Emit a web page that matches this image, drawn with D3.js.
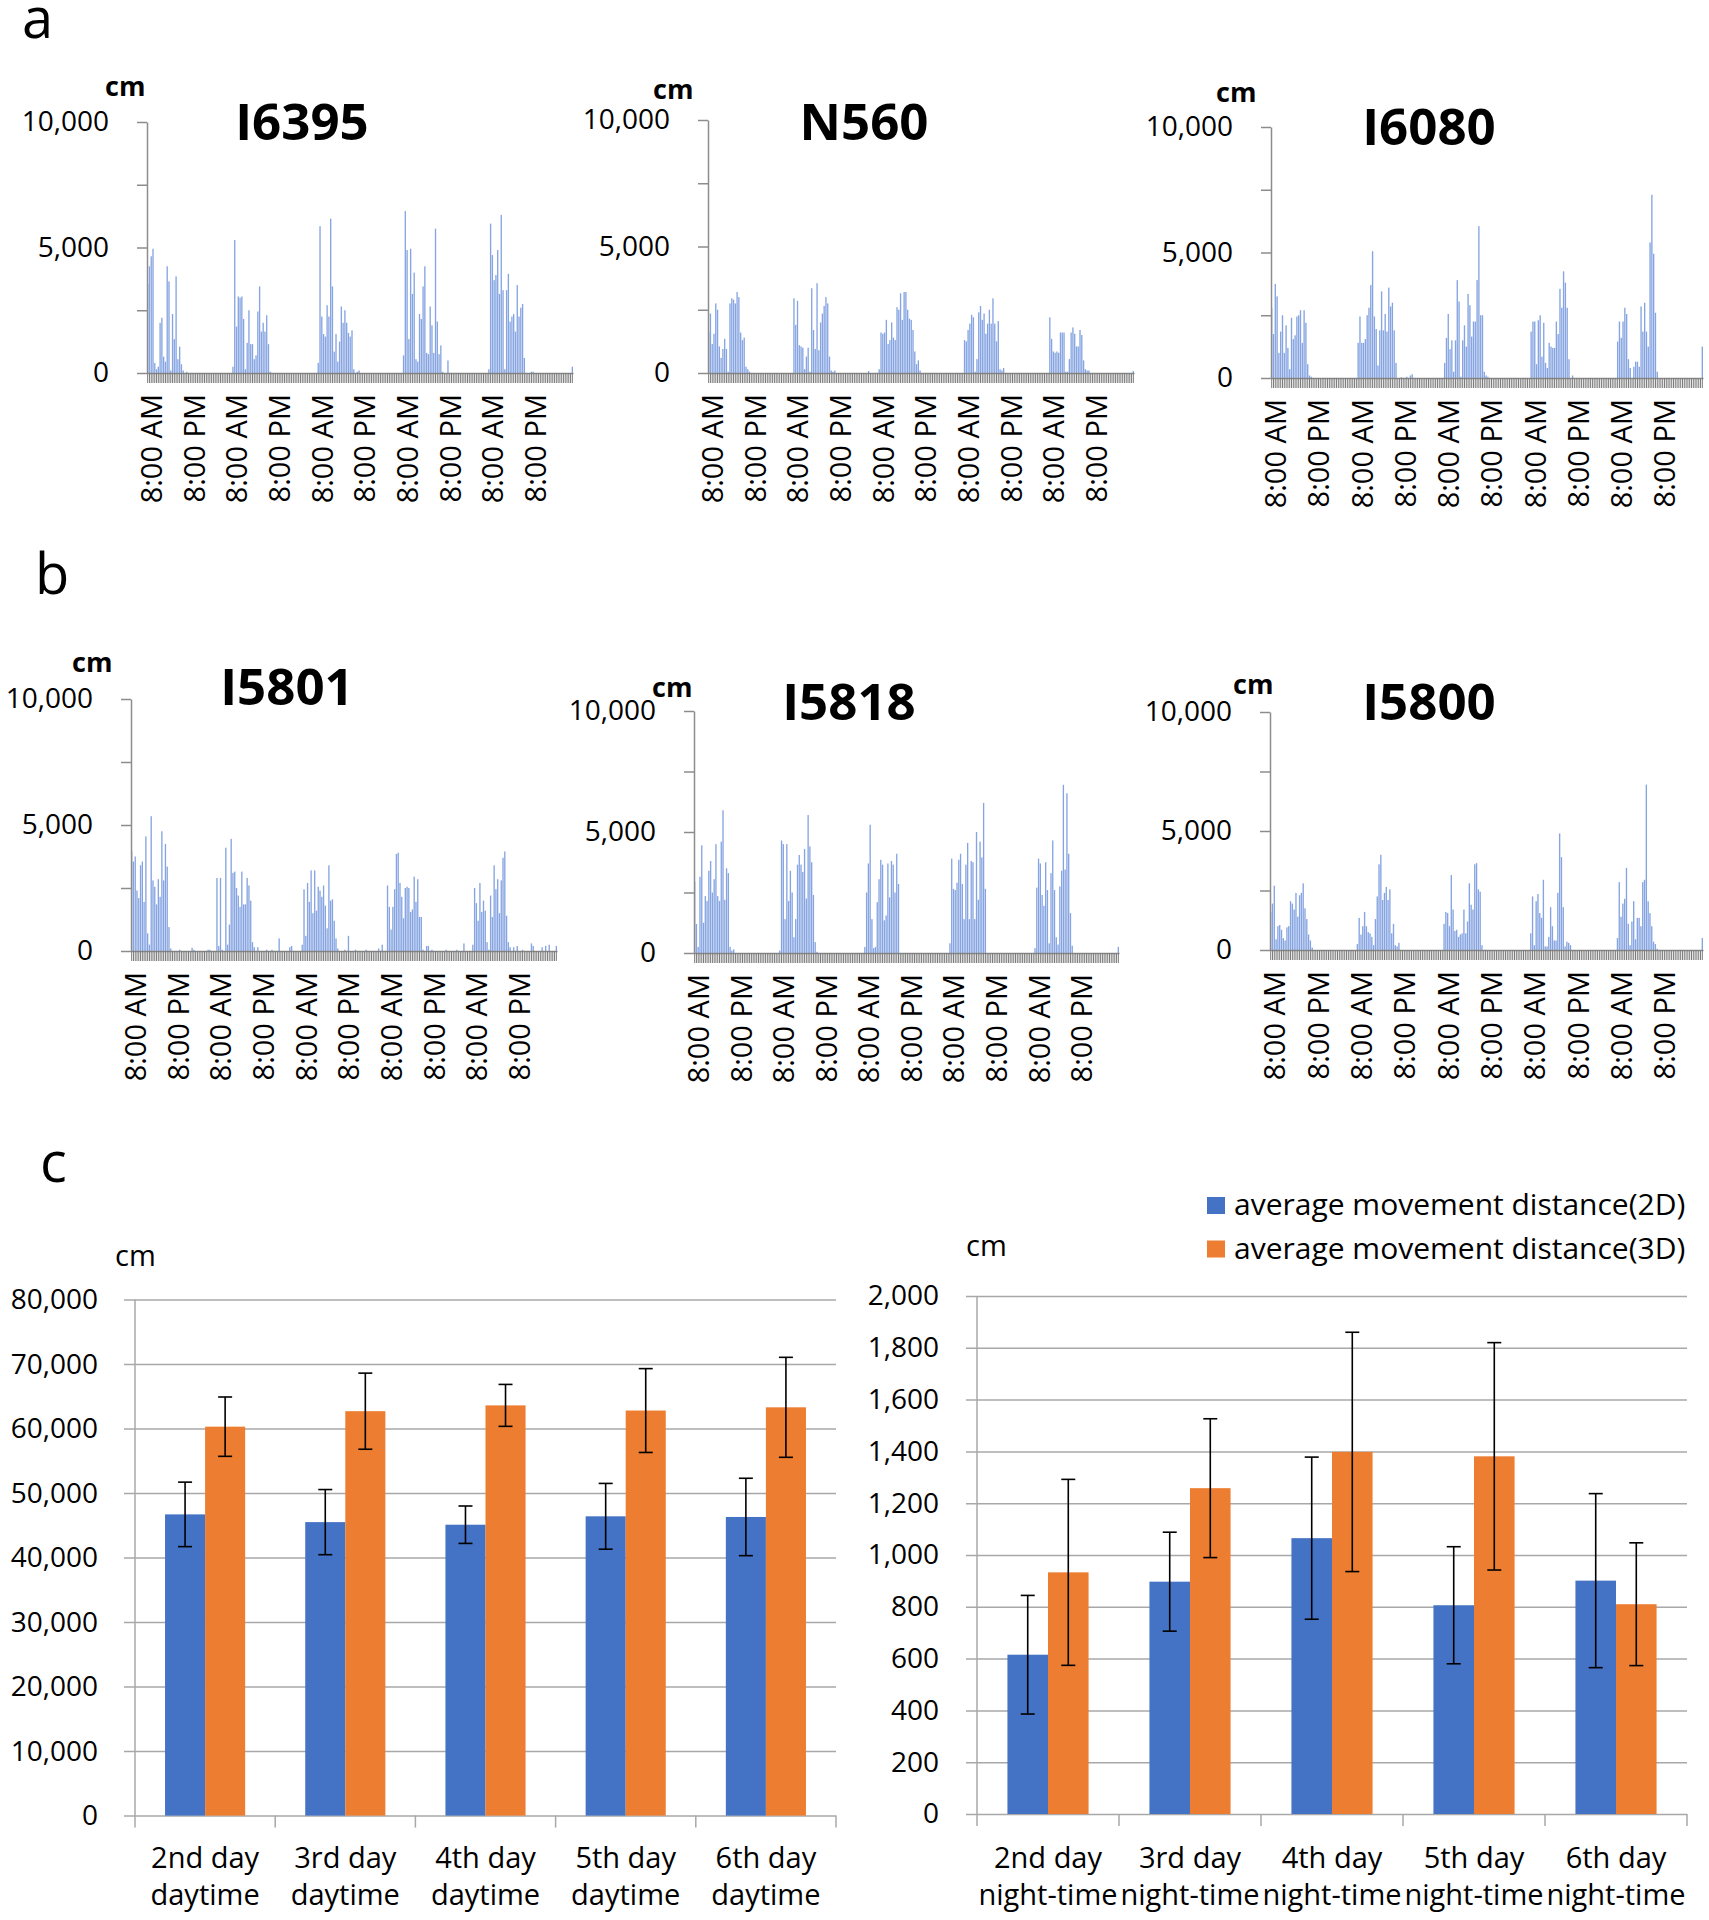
<!DOCTYPE html>
<html><head><meta charset="utf-8">
<script src="https://cdn.jsdelivr.net/npm/d3@7"></script>
<style>
body{margin:0;background:#fff}
svg{display:block}
text{font-family:"Open Sans",sans-serif;fill:#000}
</style>
</head><body>
<svg id="chart" width="1709" height="1920"></svg>
<script>
// ---------------- DATA ----------------
const N_BINS = 240;                // 30-minute bins, 5 days from 8:00 AM
const timeLabels = ["8:00 AM", "8:00 PM"];
const activityTicks = [0, 2500, 5000, 7500, 10000];
const activityTickLabels = [0, 5000, 10000];

const I6395 = [
 3550,4250,4650,4950,400,150,250,2000,2200,650,450,4250,3650,100,2350,1350,3850,550,1050,350,100,0,50,0,
 0,0,0,0,0,0, 0,0,0,0,0,0, 0,0,0,0,0,0, 0,0,0,0,0,0,
 250,5300,1850,3050,3000,3050,2150,150,1200,2500,1150,1150,550,700,2450,3450,1650,2000,1650,2300,1150,50,0,0,
 0,0,0,0,0,0, 0,0,0,0,0,0, 0,0,0,0,0,0, 0,0,0,0,0,0,
 400,5850,2250,1550,1450,2700,2250,6150,3450,850,1550,450,1250,2650,2000,2500,2000,1600,1450,1700,150,0,50,100,
 0,0,0,0,0,0, 0,0,0,0,0,0, 0,0,0,0,0,0, 0,0,0,0,0,0,
 700,6450,4900,1350,4950,3150,4000,550,450,2350,2150,3450,4250,800,750,2650,1900,800,5750,2050,750,1100,50,0,0,500,
 0,0,0,0,0,0, 0,0,0,0,0,0, 0,0,0,0,0,0, 0,0,0,0,
 150,5950,4700,3700,3900,4900,3150,6300,3300,150,3300,3950,2050,2250,2350,1650,3500,2250,2600,2750,600,0,0,0,50,50,
 0,0,0,0,0,0, 0,0,0,0,0,0, 0,0,0,0,0,0, 0,0,0,250
];
const N560 = [
 1600,2350,1150,1550,2750,2500,1050,600,950,1350,950,50,2750,2950,2900,2750,3200,3000,1600,1300,1400,250,150,50,
 0,0,0,0,0,0, 0,0,0,0,0,0, 0,0,0,0,0,0, 0,0,0,0,0,0,
 2950,1900,2850,1100,1050,1000,150,650,1000,50,3350,1700,950,3550,900,2000,2350,2650,3000,2750,650,100,50,100,
 0,0,0,0,0,0, 0,0,0,0,0,0, 0,0,0,0,0,0, 80,0,0,0,0,0,
 150,1600,1550,1600,2100,1150,1300,2000,1400,1300,2600,2500,3150,2100,3200,3200,2500,2150,2100,1700,850,350,500,100,
 0,0,0,0,0,0, 0,0,0,0,0,0, 0,0,0,0,0,0, 0,0,0,0,0,0,
 1300,1250,1700,1950,2300,2200,50,550,2400,2650,2100,2350,1550,1950,2500,1950,2950,1950,1250,2050,150,100,200,0,
 0,0,0,0,0,0, 0,0,0,0,0,0, 0,0,0,0,0,0, 0,0,0,0,0,0,
 2200,1350,850,800,850,800,1600,1600,1600,50,50,550,1600,1800,1550,1050,1050,1700,1500,500,150,100,100,0,
 0,0,0,0,0,0, 0,0,0,0,0,0, 0,0,0,0,0,0, 0,0,0,0,0,80
];
const I6080 = [
 2800,1750,3750,3250,1000,1850,2500,1000,2100,1200,350,2400,1550,1700,2450,2500,2700,1400,2700,2200,550,100,50,0,
 0,0,0,0,0,0, 0,0,0,0,0,0, 0,0,0,0,0,0, 0,0,0,0,0,0,
 1400,2450,1400,1400,1550,2500,2800,3700,5050,2450,1950,500,1900,3450,1900,2550,1850,3600,2850,3000,1900,600,0,0,
 30,0,0,50,0,100,150, 0,0,0,0,0,0, 0,0,0,0,0,0, 0,0,0,0,0,
 600,1600,2550,1150,1500,250,1500,3900,3050,50,1500,2100,1250,3350,2900,1650,2250,2250,3900,6050,2500,2500,250,100,50,
 0,0,0,0,0,0, 0,0,0,0,0,0, 0,0,0,0,0,0, 0,0,0,0,0,
 1850,2250,2250,550,2300,2500,850,2200,600,400,1400,1250,1200,1200,2250,1750,3550,2800,4250,3800,2800,750,0,100,
 0,0,0,0,0,0, 0,0,0,0,0,0, 0,0,0,0,0,0, 0,0,0,0,0,0,
 1450,2250,1600,2250,2800,2550,750,400,0,450,650,650,450,2850,1850,3000,1850,1250,5400,7300,4950,2600,250,0,
 0,0,0,0,0,0, 0,0,0,0,0,0, 0,0,0,0,0,0, 0,0,0,0,0,1250
];
const I5801 = [
 3950,3550,3750,2400,2100,3400,3550,1950,4550,700,250,5350,2800,2550,1850,2850,2150,4750,2800,4250,3350,950,100,0,
 0,0,0,50,0,0,0,0,0,0,130,50,0,0,0,0,0,0,0,50,50,0,0,0,
 2900,200,2900,50,0,4100,250,1050,4450,3100,3150,2500,2200,1750,3150,1850,1850,2900,2600,2000,350,150,0,150,
 0,0,0,0,50,0,0,50,0,0,0,500,0,0,0,0,0,150,200,0,0,0,0,0,
 250,2450,600,2700,1950,3200,1500,3200,1600,2550,2400,2150,2600,1800,900,3400,2000,2050,1200,500,100,0,0,0,
 50,0,600,0,0,0,50,0,0,0,0,0,50,0,0,0,0,0,0,100,0,250,0,0,
 2600,1750,850,1750,2450,3850,3900,2700,2150,1300,2500,2550,2500,1550,1650,2950,1950,2850,1350,1350,50,0,200,200,
 0,50,0,0,0,0,0,0,0,50,0,0,0,0,0,50,0,0,0,300,0,0,0,0,
 250,2500,1900,1200,2700,1550,2000,1600,350,50,2200,1350,3400,2450,2850,1500,2800,3700,3950,1400,350,150,0,150,
 0,200,0,0,50,0,0,0,0,300,200,0,0,0,0,150,0,200,0,250,0,0,0,200
];
const I5818 = [
 2950,1200,250,3150,4450,1250,2350,2150,3400,3800,2500,3050,4500,2350,2150,4600,5900,2200,3500,3300,250,100,150,0,
 0,0,0,0,0,0, 0,0,0,0,0,0, 0,0,0,0,0,0, 0,0,0,0,0,0,
 100,4650,4500,1400,4500,2150,3400,2500,650,1400,3650,4050,3650,3350,4300,2250,5700,4400,3750,2400,450,50,0,0,
 0,0,0,0,0,0, 0,0,0,0,0,0, 0,0,0,0,0,0, 0,0,0,0,0,0,
 250,2500,3700,5300,1400,200,250,2100,3050,3850,3650,1350,1550,3700,2300,3800,3650,2500,4100,2850,0,0,0,0,
 0,0,0,0,0,0, 0,0,0,0,0,0, 0,0,0,0,0,0, 0,0,0,0,0,0,
 400,3900,2650,2600,2900,3850,4100,2850,1400,3650,4550,1400,3800,3750,1400,5000,2200,4600,3950,6200,2650,0,0,0,
 0,0,0,0,0,0, 0,0,0,0,0,0, 0,0,0,0,0,0, 0,0,0,0,0,0,
 200,2700,3900,3700,2400,1950,3750,2600,400,3300,4650,2600,650,350,2750,3400,6950,3450,6600,4100,1650,300,0,0,
 0,0,0,0,0,0, 0,0,0,0,0,0, 0,0,0,0,0,0, 0,0,0,0,0,250
];
const I5800 = [
 1600,1950,2700,450,1000,1050,850,500,400,950,1000,2050,1950,1700,2400,1400,2300,2400,2800,1750,1300,650,400,100,
 0,0,0,0,0,0, 0,0,0,0,0,0, 0,0,0,0,0,0, 0,0,0,0,0,0,
 250,1350,650,1000,1600,1000,750,700,550,200,1300,2250,3600,4000,2100,2400,2650,2100,2550,700,1100,200,150,300,
 0,0,0,0,0,0, 0,0,0,0,0,0, 0,0,0,0,0,0, 0,0,0,0,0,0,
 1100,1600,1550,1000,3150,1700,800,850,550,650,700,1700,700,1200,2800,1900,1700,3600,3650,2550,2450,200,0,0,
 0,0,0,0,0,0, 0,0,0,0,0,0, 0,0,0,0,0,0, 0,0,0,0,0,0,
 700,2250,200,2050,2350,1550,1350,2950,150,150,550,1800,1000,400,400,2400,4900,3900,1800,150,350,300,200,0,
 0,0,0,0,0,0, 0,0,0,0,0,0, 0,0,0,0,0,0, 0,0,0,0,0,0,
 500,2850,1400,1950,2150,3450,1100,200,1200,2050,450,1350,1350,1000,2850,2950,6950,2050,1550,1000,350,250,50,0,
 0,0,0,0,0,0, 0,0,0,0,0,0, 0,0,0,0,0,0, 0,0,0,0,0,500
];
const activityNames = ["I6395", "N560", "I6080", "I5801", "I5818", "I5800"];
const activitySeries = [I6395, N560, I6080, I5801, I5818, I5800];

// panel c
const dayCats = ["2nd day", "3rd day", "4th day", "5th day", "6th day"];
const dayMean2D = [46700, 45500, 45100, 46400, 46300];
const dayErr2D  = [5000, 5050, 2900, 5100, 6000];
const dayMean3D = [60300, 62700, 63600, 62800, 63300];
const dayErr3D  = [4600, 5900, 3250, 6500, 7750];
const nightMean2D = [615, 897, 1065, 806, 901];
const nightErr2D  = [229, 191, 313, 226, 336];
const nightMean3D = [933, 1258, 1398, 1381, 810];
const nightErr3D  = [359, 268, 462, 439, 237];
const seriesNames = ["average movement distance(2D)", "average movement distance(3D)"];

activitySeries.forEach((s, i) => { if (s.length !== N_BINS) throw new Error(activityNames[i] + " length " + s.length); });

// ---------------- LAYOUT / STYLE ----------------
const svg = d3.select("#chart");
const BAR = "#7094dc", AXIS = "#8c8c8c", HATCH = "#7a7a7a", GRID = "#a8a8a8";
const BLUE = "#4472C4", ORANGE = "#ED7D31";

const activityLayout = [
  {x0:147, x1:573, yTop:122, y0:373, tx:302, ty:140, cx:105, cy:96},
  {x0:708, x1:1134, yTop:120, y0:373, tx:864, ty:140, cx:653, cy:99},
  {x0:1271, x1:1703, yTop:127, y0:378, tx:1429, ty:145, cx:1216, cy:102},
  {x0:131, x1:557, yTop:699, y0:951, tx:287, ty:705, cx:72, cy:672},
  {x0:694, x1:1119, yTop:711, y0:953, tx:849, ty:720, cx:652, cy:697},
  {x0:1270, x1:1703, yTop:712, y0:950, tx:1429, ty:720, cx:1233, cy:694}
];

// panel letters
[["a",22,38],["b",35,594],["c",40,1182]].forEach(([t,x,y]) =>
  svg.append("text").attr("x",x).attr("y",y).attr("font-size",56).text(t));

function drawActivity(values, name, L){
  const g = svg.append("g");
  const x = d3.scaleBand().domain(d3.range(N_BINS)).range([L.x0, L.x1]).paddingInner(0.25);
  const y = d3.scaleLinear().domain([0, 10000]).range([L.y0, L.yTop]);

  g.append("g").selectAll("rect").data(values).join("rect")
    .attr("x", (d,i) => x(i)).attr("width", x.bandwidth())
    .attr("y", d => y(d)).attr("height", d => y(0) - y(d))
    .attr("fill", BAR).attr("fill-opacity", 0.85);

  const xa = g.append("g").attr("transform", `translate(0,${L.y0})`)
    .call(d3.axisBottom(x).tickValues(d3.range(N_BINS)).tickSize(10).tickSizeOuter(0).tickFormat(""));
  xa.select(".domain").attr("stroke", AXIS).attr("stroke-width", 1.5);
  xa.selectAll(".tick line").attr("stroke", HATCH).attr("stroke-width", 1);

  const ya = g.append("g").attr("transform", `translate(${L.x0},0)`)
    .call(d3.axisLeft(y).tickValues(activityTicks).tickSize(10).tickSizeOuter(0).tickPadding(28)
      .tickFormat(d => activityTickLabels.includes(d) ? d3.format(",")(d) : ""));
  ya.select(".domain").attr("stroke", AXIS).attr("stroke-width", 1.5);
  ya.selectAll(".tick line").attr("stroke", AXIS).attr("stroke-width", 1.5);
  ya.selectAll(".tick text").attr("font-size", 28).attr("font-family", "Open Sans").attr("fill", "#000");

  g.append("g").selectAll("text").data(d3.range(0, N_BINS, 24)).join("text")
    .attr("transform", i => `translate(${x(i) + x.bandwidth()/2 + 3},${L.y0 + 21}) rotate(-90)`)
    .attr("text-anchor", "end").attr("dominant-baseline", "central")
    .attr("font-size", 29)
    .text(i => timeLabels[(i / 24) % 2]);

  g.append("text").attr("x", L.tx).attr("y", L.ty).attr("text-anchor", "middle")
    .attr("font-weight", "bold").attr("font-size", 51).text(name);
  g.append("text").attr("x", L.cx).attr("y", L.cy)
    .attr("font-weight", "bold").attr("font-size", 27).text("cm");
}
activitySeries.forEach((s, i) => drawActivity(s, activityNames[i], activityLayout[i]));

function drawGrouped(o){
  const g = svg.append("g");
  const x = d3.scaleBand().domain(dayCats).range([o.x0, o.x1]);
  const xs = d3.scaleBand().domain([0,1]).range([0, x.bandwidth()]).paddingInner(0).paddingOuter(0.75);
  const y = d3.scaleLinear().domain([0, o.max]).range([o.y0, o.yTop]);

  const ya = g.append("g").attr("transform", `translate(${o.x0},0)`)
    .call(d3.axisLeft(y).tickValues(d3.range(0, o.max + 1, o.step)).tickSize(-(o.x1 - o.x0)).tickPadding(o.pad).tickFormat(d3.format(",")));
  ya.select(".domain").remove();
  ya.selectAll(".tick line").attr("x1", -11).attr("stroke", GRID).attr("stroke-width", 1.5);
  ya.selectAll(".tick text").attr("font-size", 28).attr("font-family", "Open Sans").attr("fill", "#000");

  g.append("line").attr("x1", o.x0).attr("x2", o.x0).attr("y1", o.yTop).attr("y2", o.y0 + 12)
    .attr("stroke", GRID).attr("stroke-width", 1.5);
  g.selectAll("line.bd").data(dayCats.map(c => x(c)).slice(1).concat([o.x1])).join("line")
    .attr("x1", d => d).attr("x2", d => d).attr("y1", o.y0).attr("y2", o.y0 + 12)
    .attr("stroke", GRID).attr("stroke-width", 1.5);

  const series = [{m:o.m2, e:o.e2, c:BLUE}, {m:o.m3, e:o.e3, c:ORANGE}];
  series.forEach((s, k) => {
    g.append("g").selectAll("rect").data(dayCats).join("rect")
      .attr("x", c => x(c) + xs(k)).attr("width", xs.bandwidth())
      .attr("y", (c,i) => y(s.m[i])).attr("height", (c,i) => y(0) - y(s.m[i]))
      .attr("fill", s.c);
  });
  series.forEach((s, k) => {
    const eg = g.append("g").attr("stroke", "#000").attr("stroke-width", 1.6);
    dayCats.forEach((c, i) => {
      const cxp = x(c) + xs(k) + xs.bandwidth()/2;
      const top = y(s.m[i] + s.e[i]), bot = y(s.m[i] - s.e[i]);
      eg.append("line").attr("x1", cxp).attr("x2", cxp).attr("y1", top).attr("y2", bot);
      eg.append("line").attr("x1", cxp - 7).attr("x2", cxp + 7).attr("y1", top).attr("y2", top);
      eg.append("line").attr("x1", cxp - 7).attr("x2", cxp + 7).attr("y1", bot).attr("y2", bot);
    });
  });

  const lab = g.append("g").selectAll("text").data(dayCats).join("text")
    .attr("text-anchor", "middle").attr("font-size", 29);
  lab.append("tspan").attr("x", c => x(c) + x.bandwidth()/2).attr("y", 1868).text(c => c);
  lab.append("tspan").attr("x", c => x(c) + x.bandwidth()/2).attr("y", 1905).text(o.sub);

  g.append("text").attr("x", o.cmx).attr("y", o.cmy).attr("font-size", 29).text("cm");
}

drawGrouped({x0:135, x1:836, y0:1815.6, yTop:1299.6, max:80000, step:10000, pad:37,
  m2:dayMean2D, e2:dayErr2D, m3:dayMean3D, e3:dayErr3D, sub:"daytime", cmx:115, cmy:1266});
drawGrouped({x0:977, x1:1687, y0:1814, yTop:1296, max:2000, step:200, pad:38,
  m2:nightMean2D, e2:nightErr2D, m3:nightMean3D, e3:nightErr3D, sub:"night-time", cmx:966, cmy:1256});

// legend
const leg = svg.append("g").selectAll("g").data(seriesNames).join("g")
  .attr("transform", (d,i) => `translate(1207,${1197 + i*43.5})`);
leg.append("rect").attr("width", 18).attr("height", 17).attr("fill", (d,i) => i ? ORANGE : BLUE);
leg.append("text").attr("x", 27).attr("y", 18).attr("font-size", 30).text(d => d);
</script>
</body></html>
